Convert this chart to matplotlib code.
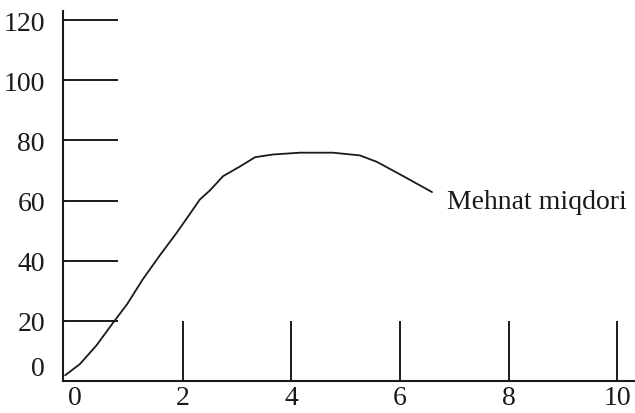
import matplotlib
matplotlib.use("Agg")
import matplotlib.pyplot as plt

plt.rcParams['font.family'] = ['Liberation Serif', 'DejaVu Serif']

# ── curve ──
work_x = [-0.17, 0.10, 0.41, 0.71, 0.97, 1.26, 1.58, 1.89, 2.13, 2.31, 2.50,
          2.74, 3.05, 3.33, 3.66, 4.16, 4.76, 5.26, 5.58, 6.06, 6.59]
work_y = [1.9, 5.6, 11.9, 19.3, 25.5, 33.8, 41.9, 49.4, 55.6, 60.3, 63.4,
          68.1, 71.3, 74.4, 75.3, 75.9, 75.9, 75.0, 72.8, 68.1, 62.8]

y_ticks = [0, 20, 40, 60, 80, 100, 120]
x_ticks = [0, 2, 4, 6, 8, 10]
h_marks = [20, 40, 60, 80, 100, 120]   # short horizontal rules from the y axis
v_marks = [2, 4, 6, 8, 10]             # short vertical rules from the x axis
label = "Mehnat miqdori"

ink = '#1a1a1a'
fig = plt.figure(figsize=(6.35, 4.14), dpi=100)
ax = fig.add_axes([0.0992, 0.0773, 0.9008, 0.8937])

ax.set_xlim(-0.21, 10.33)
ax.set_ylim(0, 123)

ax.plot(work_x, work_y, color=ink, lw=1.3, solid_joinstyle='round',
        solid_capstyle='round')
ax.hlines(h_marks, -0.21, 0.80, color=ink, lw=1.4)
ax.vlines(v_marks, 0, 20, color=ink, lw=1.4)

ax.text(6.87, 57.5, label, fontsize=20, color=ink, ha='left', va='baseline')

for s in ['top', 'right']:
    ax.spines[s].set_visible(False)
for s in ['left', 'bottom']:
    ax.spines[s].set_color(ink)
    ax.spines[s].set_linewidth(1.5)

ax.set_xticks(x_ticks)
ax.set_xticklabels([str(v) for v in x_ticks])
ax.set_yticks(y_ticks)
ax.set_yticklabels([str(v) for v in y_ticks])
ax.tick_params(axis='both', length=0, labelsize=20, colors=ink)
ax.tick_params(axis='x', pad=3)
ax.tick_params(axis='y', pad=13)
ax.get_yticklabels()[0].set_va('bottom')

fig.savefig('out.png', dpi=100)
